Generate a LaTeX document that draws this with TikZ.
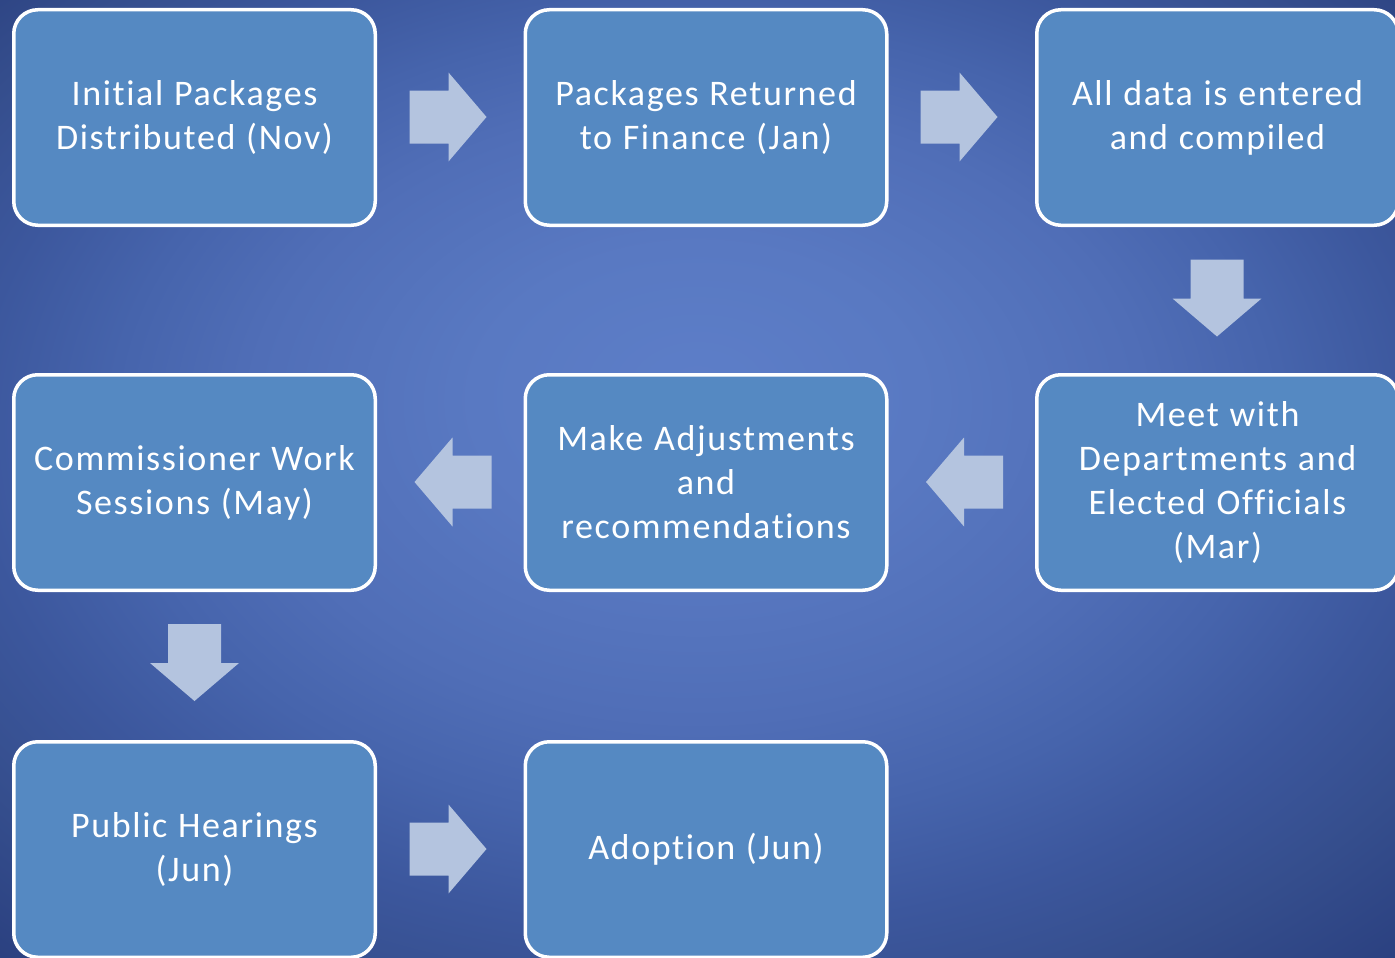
\documentclass[tikz,border=0pt]{standalone}
\usepackage{fontspec}
\setmainfont{Carlito}[Ligatures={NoCommon,NoContextual},LetterSpace=4.5,WordSpace=1.1]
\definecolor{boxfill}{HTML}{5589C2}
\definecolor{arrowfill}{HTML}{B4C4DF}
\definecolor{bgA}{HTML}{5D7EC8}
\definecolor{bgB}{HTML}{5979C2}
\definecolor{bgC}{HTML}{506EB7}
\definecolor{bgD}{HTML}{4664AC}
\definecolor{bgE}{HTML}{3C579D}
\definecolor{bgF}{HTML}{354E8D}
\definecolor{bgG}{HTML}{263A7A}
\pgfdeclareradialshading{bgshade}{\pgfpoint{0bp}{5bp}}{%
  color(0bp)=(bgA); color(8bp)=(bgB); color(16bp)=(bgC); color(21bp)=(bgD);
  color(26bp)=(bgE); color(31bp)=(bgF); color(39bp)=(bgG); color(50bp)=(bgG)}
\tikzset{
  box/.style={draw=white, line width=3.5pt, fill=boxfill, rounded corners=24pt,
    minimum width=361.5pt, minimum height=215.5pt, inner sep=0pt, text=white,
    font=\fontsize{36}{44}\selectfont, align=center},
  blockarrow/.pic={\fill[arrowfill] (-38.5,-26.5) -- (0.5,-26.5) -- (0.5,-44.5) -- (38.5,0)
    -- (0.5,44.5) -- (0.5,26.5) -- (-38.5,26.5) -- cycle;}
}
\begin{document}
\begin{tikzpicture}[x=1pt,y=-1pt]
\useasboundingbox (0,0) rectangle (1395,958);
\clip (0,0) rectangle (1395,958);
\fill[shading=bgshade] (0,0) rectangle (1395,958);

\node[box] (b1) at (194.5,117.5) {Initial Packages\\Distributed (Nov)};
\node[box] (b2) at (706,117.5) {Packages Returned\\to Finance (Jan)};
\node[box] (b3) at (1217.5,117.5) {All data is entered\\and compiled};
\node[box] (b4) at (1217.5,482.5) {Meet with\\Departments and\\Elected Officials\\(Mar)};
\node[box] (b5) at (706,482.5) {Make Adjustments\\and\\recommendations};
\node[box] (b6) at (194.5,482.5) {Commissioner Work\\Sessions (May)};
\node[box] (b7) at (194.5,849.5) {Public Hearings\\(Jun)};
\node[box] (b8) at (706,849.5) {Adoption (Jun)};

\pic at (448,117) {blockarrow};
\pic at (959,117) {blockarrow};
\pic[rotate=-90] at (1217,298) {blockarrow};
\pic[rotate=180] at (964.5,482) {blockarrow};
\pic[rotate=180] at (453,482) {blockarrow};
\pic[rotate=-90] at (194.5,662.5) {blockarrow};
\pic at (448,849) {blockarrow};
\end{tikzpicture}
\end{document}
